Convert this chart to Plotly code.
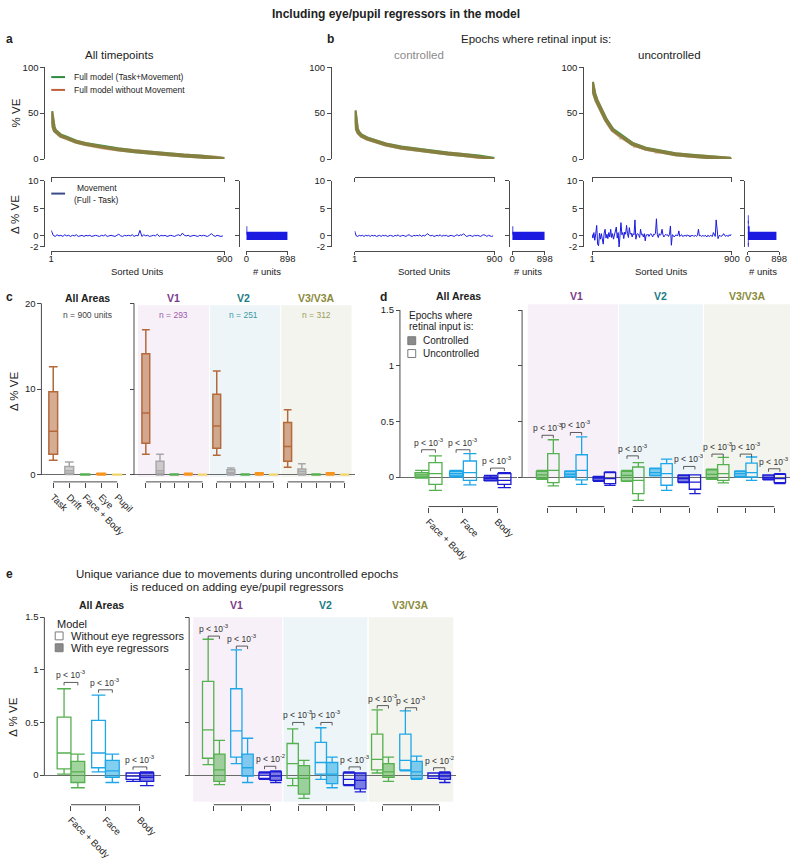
import plotly.graph_objects as go

# ======================= DATA =======================
# Panels a/b: sorted % VE curves (sorted unit index -> value)
a_units = [1, 4, 8, 13, 20, 35, 50, 70, 92, 130, 177, 262, 347, 432, 517, 602, 687, 773, 858, 900]
a_full = [52, 46, 40, 35, 31, 27.5, 25.5, 24, 22, 19, 16.5, 13, 10.6, 8.5, 6.7, 5.3, 3.9, 2.8, 1.4, 0]
a_task = [51.5, 45.5, 39.6, 34.6, 30.7, 27.2, 25.2, 23.7, 21.8, 18.8, 16.3, 12.8, 10.4, 8.3, 6.5, 5.1, 3.8, 2.7, 1.3, -0.2]

bc_units = [1, 4, 8, 15, 25, 45, 80, 130, 200, 300, 400, 500, 600, 700, 800, 900]
bc_full = [53, 46, 40, 33, 29, 25.5, 22.5, 19.5, 16, 12.5, 10, 8, 6, 4.5, 2.8, 0]
bc_task = [52.5, 45.6, 39.6, 32.7, 28.7, 25.2, 22.3, 19.3, 15.8, 12.3, 9.8, 7.9, 5.9, 4.4, 2.7, -0.1]

bu_units = [1, 5, 16, 30, 48, 70, 90, 133, 197, 261, 346, 431, 538, 645, 751, 858, 885, 893, 897, 900]
bu_full = [84, 78, 71, 64, 57, 49, 43, 32, 23.6, 16.5, 11.3, 8.5, 5.3, 3.5, 2.1, 1, 0.3, -2, -6, -10]
bu_task_units = [1, 5, 16, 30, 48, 70, 90, 133, 186, 190, 194, 197, 261, 274, 278, 282, 346, 413, 417, 421,
                 431, 538, 645, 751, 798, 802, 806, 858, 885, 893, 897, 900]
bu_task = [83.5, 77.5, 70.5, 63.5, 56.5, 48.5, 42.5, 31.5, 24.2, 22.0, 23.7, 23.3, 16.3, 15.4, 13.0, 15.0, 11.1,
           8.9, 6.5, 8.7, 8.3, 5.1, 3.3, 2.0, 1.5, -0.8, 1.4, 0.9, 0.2, -2.1, -6.2, -10.3]

# Movement (Full - Task) delta % VE per sorted unit
a_delta_units = list(range(1, 901, 10))
a_delta = [1.0, 0.1, -0.1, 0.2, 0.0, 0.1, -0.1, 0.2, 0.0, 0.1,
           -0.1, 0.1, 0.0, 0.2, -0.1, 0.0, 0.1, -0.1, 0.1, 0.0,
           0.1, -0.1, 0.0, 0.1, 0.0, -0.1, 0.1, 0.0, 0.2, -0.1,
           0.0, 0.1, 0.0, -0.1, 0.1, 0.3, 0.0, -0.1, 0.1, 0.0,
           0.1, 0.0, 0.2, -0.1, 0.1, 0.0, 1.0, -0.1, 0.2, 0.0,
           0.1, -0.1, 0.0, 0.1, 0.0, 0.3, -0.1, 0.1, 0.0, 0.1,
           -0.1, 0.0, 0.1, 0.0, -0.1, 0.1, 0.2, 0.0, 0.5, 0.1,
           0.0, 0.1, -0.1, 0.0, 0.1, 0.0, -0.1, 0.1, 0.0, 0.1,
           0.0, -0.1, 0.1, 0.4, 0.1, -0.1, 0.1, 0.0, -0.1, 0.0]
bc_delta_units = list(range(1, 901, 10))
bc_delta = [0.9, 0.0, -0.1, 0.1, 0.0, 0.1, -0.1, 0.1, 0.0, 0.1,
            -0.1, 0.1, 0.0, 0.1, -0.1, 0.0, 0.1, -0.1, 0.1, 0.0,
            0.1, -0.1, 0.0, 0.1, 0.0, -0.1, 0.1, 0.0, 0.2, -0.1,
            0.0, 0.1, 0.0, -0.1, 0.1, 0.2, 0.0, -0.1, 0.1, 0.0,
            0.1, 0.0, 0.2, -0.1, 0.1, 0.0, 0.2, 0.4, 0.1, 0.0,
            0.1, -0.1, 0.0, 0.1, 0.0, 0.2, -0.1, 0.1, 0.0, 0.1,
            -0.1, 0.0, 0.1, 0.0, -0.1, 0.1, 0.2, 0.0, 0.2, 0.1,
            0.4, 0.1, -0.1, 0.0, 0.1, 0.0, -0.1, 0.1, 0.0, 0.1,
            0.0, -0.1, 0.1, 0.2, 0.1, -0.1, 0.1, 0.0, -0.1, 0.0]
bu_delta_units = list(range(1, 901, 6))
bu_delta = [0.3, -0.4, 0.6, -0.8, 0.4, 1.9, -1.5, -1.8, 0.5, -0.6,
            0.4, -0.3, -1.5, 0.5, 1.2, -0.4, 0.3, -0.5, 0.6, -0.2,
            1.2, -0.3, 0.4, -0.6, 0.3, 0.5, 1.6, -0.4, 0.6, -2.1,
            0.4, 2.4, 0.2, 0.6, -0.5, 0.7, 0.3, 1.9, 0.4, -0.3,
            1.5, 0.3, 0.5, -0.2, 0.4, 0.2, 2.9, -0.6, 0.3, 0.4,
            0.1, -0.3, 1.2, 0.2, 0.3, -0.2, 0.4, -0.9, 0.2, 0.1,
            0.3, -0.1, 0.2, 0.4, 0.1, -0.2, 0.3, 0.2, 0.5, 3.1,
            0.2, -0.3, 0.4, 0.1, 0.3, 1.2, 0.2, -0.2, 0.1, 0.3,
            0.1, 0.2, -0.1, 0.3, 1.8, -1.7, 0.2, 0.1, -0.2, 0.1,
            0.2, 0.0, 0.1, 0.9, -0.1, 0.1, 0.2, -0.1, 0.0, 0.1,
            0.1, -0.1, 0.2, 0.0, 0.1, -0.2, 0.1, 0.0, 0.1, -0.1,
            0.0, 0.1, -0.1, 0.1, 1.2, 0.0, 0.1, -0.1, 0.0, 0.1,
            -0.1, 0.1, 0.0, -0.2, 0.1, 0.0, -0.1, 0.1, 0.0, -0.1,
            0.6, 0.0, -0.1, 2.9, 0.1, -0.5, 0.0, 0.1, -0.1, 0.0,
            0.1, 0.4, 0.0, -0.1, 0.1, 0.0, -0.1, 0.2, 0.0, 0.3]

# Histograms of delta (# units per delta bin)
a_hist_bins = [0, 1]
a_hist_counts = [898, 2]
bc_hist_bins = [0, 1]
bc_hist_counts = [898, 2]
bu_hist_bins = [-2, -1, 0, 1, 2, 3]
bu_hist_counts = [3, 8, 820, 55, 9, 5]

# Panel c: unique % VE per regressor group, per area  [regressor][area]
c_regressors = ["Task", "Drift", "Face + Body", "Eye", "Pupil"]
c_areas = ["All Areas", "V1", "V2", "V3/V3A"]
c_n_labels = ["n = 900 units", "n = 293", "n = 251", "n = 312"]
c_lo = [[1.7, 2.4, 2.3, 0.9], [0.05, 0.0, 0.0, 0.0], [0.0, 0.0, 0.0, 0.0], [0.0, 0.0, 0.0, 0.0], [0.0, 0.0, 0.0, 0.0]]
c_q1 = [[2.4, 3.7, 3.1, 1.6], [0.2, 0.2, 0.1, 0.1], [0.0, 0.0, 0.0, 0.0], [0.04, 0.04, 0.06, 0.06], [0.0, 0.0, 0.0, 0.0]]
c_med = [[5.1, 7.2, 5.7, 3.3], [0.5, 0.5, 0.3, 0.4], [0.04, 0.04, 0.04, 0.04], [0.1, 0.1, 0.14, 0.14], [0.03, 0.03, 0.03, 0.03]]
c_q3 = [[9.7, 14.1, 9.4, 6.1], [1.0, 1.6, 0.6, 0.7], [0.1, 0.1, 0.1, 0.1], [0.17, 0.17, 0.22, 0.22], [0.07, 0.07, 0.07, 0.07]]
c_hi = [[12.6, 16.9, 12.1, 7.6], [1.5, 2.4, 0.8, 1.3], [0.12, 0.12, 0.12, 0.12], [0.2, 0.2, 0.25, 0.25], [0.08, 0.08, 0.08, 0.08]]

# Panel d: movement delta % VE, controlled vs uncontrolled epochs  [area][category]
mv_categories = ["Face + Body", "Face", "Body"]
d_ctrl_lo = [[-0.01, 0.0, -0.035], [-0.02, 0.0, -0.04], [-0.04, 0.01, -0.05], [-0.02, 0.0, -0.025]]
d_ctrl_q1 = [[0.0, 0.01, -0.03], [-0.01, 0.005, -0.03], [-0.035, 0.015, -0.044], [-0.015, 0.006, -0.02]]
d_ctrl_med = [[0.02, 0.03, -0.015], [0.02, 0.025, -0.01], [0.015, 0.04, -0.015], [0.024, 0.03, -0.005]]
d_ctrl_q3 = [[0.04, 0.05, 0.0], [0.05, 0.05, 0.0], [0.05, 0.075, 0.015], [0.065, 0.05, 0.018]]
d_ctrl_hi = [[0.06, 0.06, 0.015], [0.06, 0.055, 0.005], [0.06, 0.08, 0.02], [0.07, 0.055, 0.02]]
d_unc_lo = [[-0.12, -0.07, -0.096], [-0.08, -0.066, -0.075], [-0.21, -0.12, -0.15], [-0.053, -0.03, -0.06]]
d_unc_q1 = [[-0.066, -0.03, -0.066], [-0.05, -0.025, -0.06], [-0.15, -0.074, -0.11], [-0.03, 0.0, -0.05]]
d_unc_med = [[0.03, 0.04, -0.03], [0.06, 0.06, -0.015], [-0.03, 0.03, -0.045], [0.03, 0.04, -0.015]]
d_unc_q3 = [[0.13, 0.144, 0.03], [0.21, 0.2, 0.04], [0.09, 0.12, 0.02], [0.112, 0.124, 0.024]]
d_unc_hi = [[0.19, 0.21, 0.04], [0.335, 0.36, 0.045], [0.13, 0.16, 0.02], [0.177, 0.18, 0.03]]
d_p_level = [[0.245, 0.245, 0.08], [0.375, 0.4, None], [0.19, None, 0.095], [0.206, 0.206, 0.074]]
d_p_exp = [[-3, -3, -3], [-3, -3, -3], [-3, -3, -3], [-3, -3, -3]]

# Panel e: uncontrolled epochs, model without vs with eye regressors  [area][category]
e_wo_lo = [[0.01, 0.03, -0.06], [0.1, 0.11, -0.04], [-0.1, -0.04, -0.1], [0.02, 0.04, -0.03]]
e_wo_q1 = [[0.06, 0.07, -0.04], [0.16, 0.17, -0.03], [-0.03, 0.01, -0.09], [0.05, 0.05, -0.03]]
e_wo_med = [[0.21, 0.21, -0.01], [0.43, 0.42, 0.0], [0.11, 0.12, -0.04], [0.15, 0.14, -0.01]]
e_wo_q3 = [[0.55, 0.52, 0.02], [0.89, 0.82, 0.02], [0.3, 0.31, 0.02], [0.39, 0.39, 0.02]]
e_wo_hi = [[0.82, 0.76, 0.02], [1.29, 1.19, 0.03], [0.44, 0.45, 0.03], [0.62, 0.61, 0.02]]
e_w_lo = [[-0.12, -0.07, -0.1], [-0.09, -0.07, -0.07], [-0.22, -0.12, -0.16], [-0.06, -0.04, -0.07]]
e_w_q1 = [[-0.07, -0.02, -0.06], [-0.06, -0.01, -0.05], [-0.18, -0.08, -0.13], [-0.02, -0.03, -0.04]]
e_w_med = [[0.03, 0.04, -0.02], [0.05, 0.07, -0.01], [-0.03, 0.01, -0.05], [0.03, 0.03, -0.01]]
e_w_q3 = [[0.13, 0.14, 0.02], [0.2, 0.2, 0.03], [0.09, 0.12, 0.02], [0.11, 0.13, 0.02]]
e_w_hi = [[0.2, 0.2, 0.03], [0.33, 0.35, 0.04], [0.14, 0.17, 0.02], [0.17, 0.18, 0.03]]
e_p_level = [[0.88, 0.81, 0.078], [1.32, 1.225, 0.084], [0.5, 0.5, 0.078], [0.66, 0.64, 0.07]]
e_p_exp = [[-3, -3, -3], [-3, -3, -2], [-3, -3, -3], [-3, -3, -2]]

# ======================= STYLE / LAYOUT HELPERS =======================
W, H = 799, 866
FONT = "Liberation Sans, Arial, Helvetica, sans-serif"
AX = "#4a4a4a"
TXT = "#222222"
C_GREEN_CURVE = "#3a9a48"
C_ORANGE_CURVE = "rgba(196,106,58,0.55)"
C_DELTA = "#1a1ae0"
C_TASK = "#b5693b"
C_DRIFT = "#a8a8a8"
C_FB = "#55b04f"
C_FACE = "#1ea7e8"
C_BODY = "#1c1cd4"
C_EYE = "#f7941d"
C_PUPIL = "#f3d46a"
AREA_COL = ["#222222", "#7a3a8a", "#1b7b84", "#8a8a3a"]
AREA_NCOL = ["#444444", "#9a5aaa", "#3a9aa0", "#9c9c5c"]
SHADE = ["#f8f0f8", "#eef5f9", "#f3f4ee"]


def X(px):
    return px / W


def Y(py):
    return 1 - py / H


def rgba(hexc, a):
    h = hexc.lstrip('#')
    return "rgba(%d,%d,%d,%s)" % (int(h[0:2], 16), int(h[2:4], 16), int(h[4:6], 16), a)


fig = go.Figure()
axes_layout = {}
shapes = []
annotations = []
_count = [0]


def make_axes(xdom, ydom, xr, yr, xline_py, yline_px, xkw=None, ykw=None):
    _count[0] += 1
    n = _count[0]
    s = '' if n == 1 else str(n)
    base = dict(showgrid=False, zeroline=False, fixedrange=True, ticks='', showticklabels=False,
                showline=False, linecolor=AX, linewidth=1, tickcolor=AX, ticklen=4, tickwidth=1,
                tickfont=dict(size=9.5, color=TXT, family=FONT), anchor='free', type='linear')
    xa = dict(base, domain=[X(xdom[0]), X(xdom[1])], range=xr, position=Y(xline_py))
    ya = dict(base, domain=[Y(ydom[1]), Y(ydom[0])], range=yr, position=X(yline_px))
    if xkw:
        xa.update(xkw)
    if ykw:
        ya.update(ykw)
    axes_layout['xaxis' + s] = xa
    axes_layout['yaxis' + s] = ya
    return 'x' + s, 'y' + s


def txt(px, py, s, size=9.5, color=TXT, bold=False, xanchor='center', angle=0):
    annotations.append(dict(x=X(px), y=Y(py), xref='paper', yref='paper',
                            text=('<b>%s</b>' % s) if bold else s, showarrow=False,
                            font=dict(size=size, color=color, family=FONT),
                            xanchor=xanchor, yanchor='middle', textangle=angle))


def hline_paper(px0, px1, py, color, width=2):
    shapes.append(dict(type='line', xref='paper', yref='paper', x0=X(px0), x1=X(px1),
                       y0=Y(py), y1=Y(py), line=dict(color=color, width=width)))


def square(px, py, filled):
    shapes.append(dict(type='rect', xref='paper', yref='paper', x0=X(px), x1=X(px + 8),
                       y0=Y(py + 4), y1=Y(py - 4),
                       fillcolor='#8a8a8a' if filled else 'rgba(0,0,0,0)',
                       line=dict(color='#7a7a7a', width=1)))


def add_box(xa, ya, pos, lo, q1, med, q3, hi, color, filled, width, lw=1.3):
    fig.add_trace(go.Box(x=[pos], lowerfence=[lo], q1=[q1], median=[med], q3=[q3], upperfence=[hi],
                         width=width, whiskerwidth=1, boxpoints=False,
                         fillcolor=rgba(color, 0.55) if filled else 'rgba(0,0,0,0)',
                         line=dict(color=color, width=lw), xaxis=xa, yaxis=ya,
                         showlegend=False, hoverinfo='skip'))


def yaxis_line(ya, px, y0, y1):
    shapes.append(dict(type='line', xref='paper', yref=ya, x0=X(px), x1=X(px), y0=y0, y1=y1,
                       line=dict(color=AX, width=1)))


def bracket_axis(xa, p0, p1, py):
    shapes.append(dict(type='line', xref=xa, yref='paper', x0=p0, x1=p1, y0=Y(py), y1=Y(py),
                       line=dict(color=AX, width=1)))


def shade(xa, p0, p1, py_top, py_bot, color):
    shapes.append(dict(type='rect', xref=xa, yref='paper', x0=p0, x1=p1, y0=Y(py_bot), y1=Y(py_top),
                       fillcolor=color, line=dict(width=0), layer='below'))


def pval(xa, ya, pos, lvl, exp, off, tick):
    shapes.append(dict(type='path', xref=xa, yref=ya,
                       path='M %f,%f L %f,%f L %f,%f L %f,%f' % (pos - off, lvl - tick, pos - off, lvl,
                                                                 pos + off, lvl, pos + off, lvl - tick),
                       line=dict(color='#333333', width=0.8)))
    annotations.append(dict(x=pos, y=lvl, xref=xa, yref=ya, text='p < 10<sup>%d</sup>' % exp,
                            showarrow=False, yanchor='bottom', yshift=0,
                            font=dict(size=8.5, color='#333333', family=FONT)))


axis_on = dict(showline=True, ticks='outside')

# ======================= PANELS a / b =======================
ab_panels = [
    dict(u=a_units, full=a_full, tu=a_units, task=a_task, du=a_delta_units, d=a_delta,
         hb=a_hist_bins, hc=a_hist_counts, x0=49, x1=225, yax=42, h0=247, h1=289, hyax=240),
    dict(u=bc_units, full=bc_full, tu=bc_units, task=bc_task, du=bc_delta_units, d=bc_delta,
         hb=bc_hist_bins, hc=bc_hist_counts, x0=357, x1=499, yax=333, h0=517, h1=550, hyax=514),
    dict(u=bu_units, full=bu_full, tu=bu_task_units, task=bu_task, du=bu_delta_units, d=bu_delta,
         hb=bu_hist_bins, hc=bu_hist_counts, x0=598, x1=740, yax=589, h0=756, h1=788, hyax=752),
]
for P in ab_panels:
    xt, yt = make_axes((P['x0'], P['x1']), (62, 155), [1, 900], [0, 100], 173, P['yax'],
                       xkw=dict(axis_on, tickvals=[1, 900]),
                       ykw=dict(axis_on, tickvals=[0, 50, 100], showticklabels=True))
    fig.add_trace(go.Scatter(x=P['u'], y=P['full'], mode='lines', line=dict(color=C_GREEN_CURVE, width=4),
                             xaxis=xt, yaxis=yt, showlegend=False, cliponaxis=False, hoverinfo='skip'))
    fig.add_trace(go.Scatter(x=P['tu'], y=P['task'], mode='lines', line=dict(color=C_ORANGE_CURVE, width=4),
                             xaxis=xt, yaxis=yt, showlegend=False, cliponaxis=False, hoverinfo='skip'))
    xb, yb = make_axes((P['x0'], P['x1']), (177, 244), [1, 900], [-2, 10], 248, P['yax'],
                       xkw=dict(axis_on, ticklen=3, tickvals=[1, 900], ticktext=['1', '900'],
                                showticklabels=True, ticklabelstandoff=-4),
                       ykw=dict(axis_on, tickvals=[-2, 0, 5, 10], ticktext=['-2', '0', '5', '10'],
                                showticklabels=True))
    fig.add_trace(go.Scatter(x=P['du'], y=P['d'], mode='lines', line=dict(color=C_DELTA, width=1),
                             xaxis=xb, yaxis=yb, showlegend=False, hoverinfo='skip'))
    xh, yh = make_axes((P['h0'], P['h1']), (177, 244), [0, 898], [-2, 10], 248, P['hyax'],
                       xkw=dict(axis_on, ticklen=3, tickvals=[0, 898], ticktext=['0', '898'],
                                showticklabels=True, ticklabelstandoff=-4),
                       ykw=dict(axis_on, tickvals=[0, 5, 10]))
    fig.add_trace(go.Bar(x=P['hc'], y=P['hb'], orientation='h', width=1.5,
                         marker=dict(color=C_DELTA, line=dict(width=0)),
                         xaxis=xh, yaxis=yh, showlegend=False, hoverinfo='skip'))
    txt((P['x0'] + P['x1']) / 2, 269, "Sorted Units")
    txt((P['h0'] + P['h1']) / 2, 269, "# units")

txt(399, 8, "Including eye/pupil regressors in the model", size=12, bold=True)
txt(1, 33, "a", size=12, bold=True, xanchor='left')
txt(327, 33, "b", size=12, bold=True, xanchor='left')
txt(118, 50, "All timepoints", size=11.5)
txt(541, 33, "Epochs where retinal input is:", size=11.5)
txt(422, 50, "controlled", size=11.5, color="#8a8a8a")
txt(677, 50, "uncontrolled", size=11.5)
txt(13, 108, "% VE", size=11.5, angle=-90)
txt(13, 211, "Δ % VE", size=11.5, angle=-90)
hline_paper(49, 63, 72, "#2e8b3e", 2)
txt(70, 72, "Full model (Task+Movement)", size=8.5, xanchor='left')
hline_paper(49, 63, 85, "#c0603a", 2)
txt(70, 85, "Full model without Movement", size=8.5, xanchor='left')
hline_paper(49, 63, 190, "#3b4a8a", 2)
txt(73, 184, "Movement", size=8.5, xanchor='left')
txt(70, 196, "(Full - Task)", size=8.5, xanchor='left')

# ======================= PANEL c =======================
c_colors = [C_TASK, C_DRIFT, C_FB, C_EYE, C_PUPIL]
yz = dict(zeroline=True, zerolinecolor='#6a6a6a', zerolinewidth=1)
cLx, cLy = make_axes((39, 125), (301, 478), [-0.738, 4.554], [-0.345, 20], 482, 39,
                     xkw=dict(ticks='outside', ticklen=5, tickvals=list(range(5)), ticktext=c_regressors,
                              showticklabels=True, tickangle=45, tickfont=dict(size=9.5, color=TXT, family=FONT)),
                     ykw=dict(yz, ticks='outside', tickvals=[0, 10, 20], showticklabels=True))
cRx, cRy = make_axes((133, 357), (301, 478), [-0.833, 14.72], [-0.345, 20], 482, 133,
                     xkw=dict(ticks='outside', ticklen=5, tickvals=list(range(15))),
                     ykw=dict(yz, ticks='outside', tickvals=[0, 10, 20]))
yaxis_line(cLy, 39, 0, 20)
yaxis_line(cRy, 133, 0, 20)
bracket_axis(cLx, 0, 4, 482)
c_shade = [(-0.55, 4.45), (4.52, 9.48), (9.55, 14.5)]
for k in range(3):
    bracket_axis(cRx, k * 5, k * 5 + 4, 482)
    shade(cRx, c_shade[k][0], c_shade[k][1], 303, 477, SHADE[k])
for ai in range(4):
    for r in range(5):
        xa, ya = (cLx, cLy) if ai == 0 else (cRx, cRy)
        pos = r if ai == 0 else (ai - 1) * 5 + r
        add_box(xa, ya, pos, c_lo[r][ai], c_q1[r][ai], c_med[r][ai], c_q3[r][ai], c_hi[r][ai],
                c_colors[r], True, 0.55, lw=1.5)
txt(1, 295, "c", size=12, bold=True, xanchor='left')
txt(11, 390, "Δ % VE", size=11.5, angle=-90)
c_title_px = [86, 173, 244, 318]
for ai in range(4):
    txt(c_title_px[ai], 296, c_areas[ai], size=10.5, bold=True, color=AREA_COL[ai])
    txt(c_title_px[ai], 313, c_n_labels[ai], size=8.5, color=AREA_NCOL[ai])

# ======================= PANEL d =======================
mv_colors = [C_FB, C_FACE, C_BODY]
dLx, dLy = make_axes((403, 522), (308, 503), [-0.829, 2.571], [-0.23, 1.5], 507, 403,
                     xkw=dict(ticks='outside', ticklen=5, tickvals=[0, 1, 2], ticktext=mv_categories,
                              showticklabels=True, tickangle=45, tickfont=dict(size=9.5, color=TXT, family=FONT)),
                     ykw=dict(yz, ticks='outside', tickvals=[0, 0.5, 1, 1.5], ticktext=['0', '0.5', '1', '1.5'],
                              showticklabels=True))
dRx, dRy = make_axes((527, 799), (308, 503), [-0.904, 8.557], [-0.23, 1.5], 507, 527,
                     xkw=dict(ticks='outside', ticklen=5, tickvals=list(range(9))),
                     ykw=dict(yz, ticks='outside', tickvals=[0, 0.5, 1, 1.5]))
yaxis_line(dLy, 403, 0, 1.5)
yaxis_line(dRy, 527, 0, 1.5)
bracket_axis(dLx, 0, 2, 507)
d_shade = [(-0.7, 2.48), (2.52, 5.48), (5.52, 8.56)]
for k in range(3):
    bracket_axis(dRx, k * 3, k * 3 + 2, 507)
    shade(dRx, d_shade[k][0], d_shade[k][1], 302, 478, SHADE[k])
for ai in range(4):
    xa, ya = (dLx, dLy) if ai == 0 else (dRx, dRy)
    wdt = 0.38 if ai == 0 else 0.4
    for ci in range(3):
        pos = ci if ai == 0 else (ai - 1) * 3 + ci
        add_box(xa, ya, pos - 0.2, d_ctrl_lo[ai][ci], d_ctrl_q1[ai][ci], d_ctrl_med[ai][ci],
                d_ctrl_q3[ai][ci], d_ctrl_hi[ai][ci], mv_colors[ci], True, wdt)
        add_box(xa, ya, pos + 0.2, d_unc_lo[ai][ci], d_unc_q1[ai][ci], d_unc_med[ai][ci],
                d_unc_q3[ai][ci], d_unc_hi[ai][ci], mv_colors[ci], False, wdt)
        if d_p_level[ai][ci] is not None:
            pval(xa, ya, pos, d_p_level[ai][ci], d_p_exp[ai][ci], 0.2, 0.027)
txt(381, 295, "d", size=12, bold=True, xanchor='left')
d_title_px = [462, 582, 668, 756]
for ai in range(4):
    txt(d_title_px[ai], 294, c_areas[ai], size=10.5, bold=True, color=AREA_COL[ai])
txt(410, 313, "Epochs where", size=10, xanchor='left')
txt(410, 325, "retinal input is:", size=10, xanchor='left')
square(411, 339, True)
txt(424, 339, "Controlled", size=10, xanchor='left')
square(411, 352, False)
txt(424, 352, "Uncontrolled", size=10, xanchor='left')

# ======================= PANEL e =======================
eLx, eLy = make_axes((42, 160), (619, 806), [-0.771, 2.6], [-0.253, 1.5], 809, 42,
                     xkw=dict(ticks='outside', ticklen=5, tickvals=[0, 1, 2], ticktext=mv_categories,
                              showticklabels=True, tickangle=45, tickfont=dict(size=9.5, color=TXT, family=FONT)),
                     ykw=dict(yz, ticks='outside', tickvals=[0, 0.5, 1, 1.5], ticktext=['0', '0.5', '1', '1.5'],
                              showticklabels=True))
eRx, eRy = make_axes((189, 460), (619, 806), [-0.874, 8.6], [-0.253, 1.5], 809, 189,
                     xkw=dict(ticks='outside', ticklen=5, tickvals=list(range(9))),
                     ykw=dict(yz, ticks='outside', tickvals=[0, 0.5, 1, 1.5]))
yaxis_line(eLy, 42, 0, 1.5)
yaxis_line(eRy, 189, 0, 1.5)
bracket_axis(eLx, 0, 2, 809)
e_shade = [(-0.73, 2.43), (2.47, 5.45), (5.5, 8.5)]
for k in range(3):
    bracket_axis(eRx, k * 3, k * 3 + 2, 809)
    shade(eRx, e_shade[k][0], e_shade[k][1], 619, 806, SHADE[k])
for ai in range(4):
    xa, ya = (eLx, eLy) if ai == 0 else (eRx, eRy)
    for ci in range(3):
        pos = ci if ai == 0 else (ai - 1) * 3 + ci
        add_box(xa, ya, pos - 0.2, e_wo_lo[ai][ci], e_wo_q1[ai][ci], e_wo_med[ai][ci],
                e_wo_q3[ai][ci], e_wo_hi[ai][ci], mv_colors[ci], False, 0.4)
        add_box(xa, ya, pos + 0.2, e_w_lo[ai][ci], e_w_q1[ai][ci], e_w_med[ai][ci],
                e_w_q3[ai][ci], e_w_hi[ai][ci], mv_colors[ci], True, 0.4)
        pval(xa, ya, pos, e_p_level[ai][ci], e_p_exp[ai][ci], 0.2, 0.028)
txt(1, 575, "e", size=12, bold=True, xanchor='left')
txt(238, 575, "Unique variance due to movements during uncontrolled epochs", size=11.5)
txt(238, 588, "is reduced on adding eye/pupil regressors", size=11.5)
txt(10, 720, "Δ % VE", size=11.5, angle=-90)
e_title_px = [100, 237, 327, 414]
for ai in range(4):
    txt(e_title_px[ai], 607, c_areas[ai], size=10.5, bold=True, color=AREA_COL[ai])
txt(53, 626, "Model", size=11, xanchor='left')
square(53, 638, False)
txt(67, 638, "Without eye regressors", size=11, xanchor='left')
square(53, 650, True)
txt(67, 650, "With eye regressors", size=11, xanchor='left')

fig.update_layout(
    width=W, height=H, margin=dict(l=0, r=0, t=0, b=0),
    paper_bgcolor='white', plot_bgcolor='rgba(0,0,0,0)',
    boxmode='overlay', barmode='overlay', showlegend=False,
    font=dict(family=FONT, color=TXT, size=9.5),
    shapes=shapes, annotations=annotations,
    **axes_layout
)
fig.write_html("out.html", config={'displayModeBar': False},
               post_script="document.body.style.margin='0px';document.body.style.padding='0px';")
